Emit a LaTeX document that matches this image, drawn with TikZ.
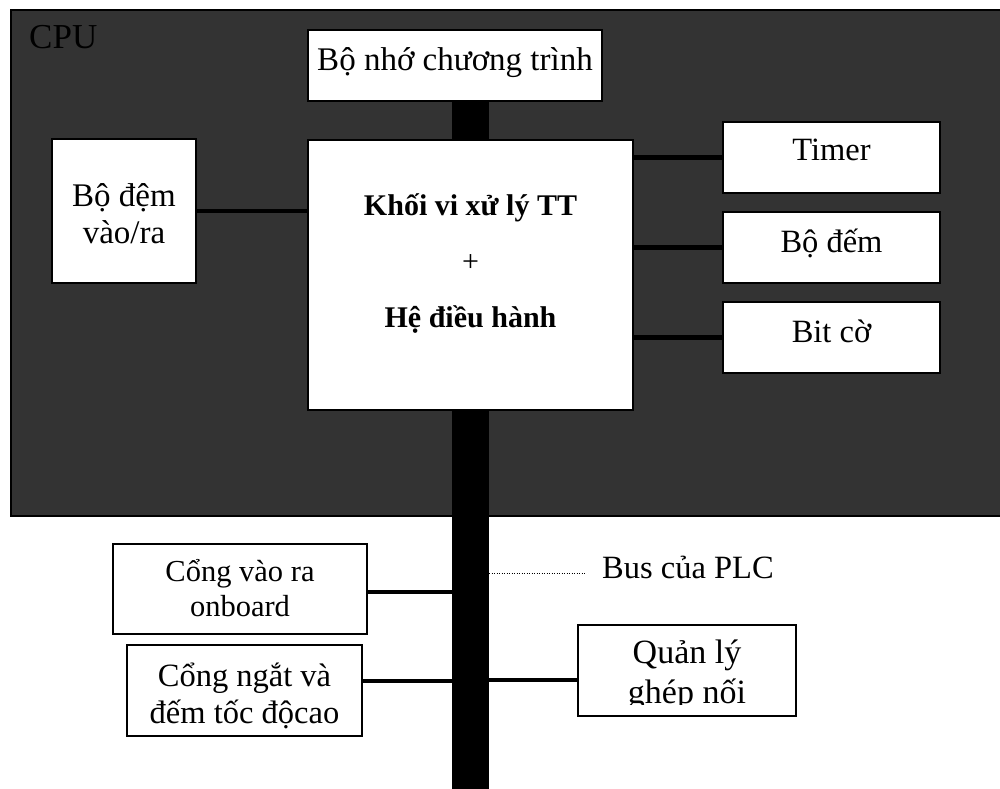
\documentclass[tikz,border=0pt]{standalone}
\usepackage{fontspec}
\setmainfont{Liberation Serif}
% centred lines with a fixed baseline distance; the box's baseline is the first line
\newcommand\linestack[2]{\vtop{\baselineskip=#1\lineskiplimit=-\maxdimen\lineskip=0pt
  \halign{\hfil##\hfil\cr#2\crcr}}}
\definecolor{cpugray}{HTML}{333333}
\tikzset{
  panel/.style={draw=black, fill=cpugray, line width=1.5pt, inner sep=0pt},
  blk/.style={draw=black, fill=white, line width=1.5pt, inner sep=0pt},
  busbar/.style={fill=black, draw=none, inner sep=0pt},
  link/.style={line width=4.5pt},
  leader/.style={line width=0.9pt, dash pattern=on 0.9pt off 1.6pt},
  txt/.style={inner sep=0pt, anchor=base, font=\fontsize{31}{36}\selectfont},
  fs/.style={font=\fontsize{#1}{#1}\selectfont},
}
\begin{document}
\begin{tikzpicture}[x=1pt, y=-1pt]
\useasboundingbox (0,0) rectangle (1000,788);

% CPU enclosure
\node[panel, minimum width=992pt, minimum height=506pt] (cpu) at (507,263) {};
\node[txt, anchor=base west, fs=35] (cpulbl) at (29,48) {CPU};

% system bus
\node[busbar, minimum width=37pt, minimum height=690pt] (bus) at (470.5,445) {};

% blocks
\node[blk, minimum width=294pt, minimum height=71pt]  (prog)    at (455,65.5)   {};
\node[blk, minimum width=325pt, minimum height=270pt] (core)    at (470.5,275)  {};
\node[blk, minimum width=144pt, minimum height=144pt] (buf)     at (124,211)    {};
\node[blk, minimum width=217pt, minimum height=71pt]  (timer)   at (831.5,157.5){};
\node[blk, minimum width=217pt, minimum height=71pt]  (counter) at (831.5,247.5){};
\node[blk, minimum width=217pt, minimum height=71pt]  (flags)   at (831.5,337.5){};
\node[blk, minimum width=254pt, minimum height=90pt]  (port1)   at (240,589)    {};
\node[blk, minimum width=235pt, minimum height=91pt]  (port2)   at (244.5,690.5){};
\node[blk, minimum width=218pt, minimum height=91pt]  (iface)   at (687,670.5)  {};

% connections
\draw[link] (buf.east) -- (buf.east -| core.west);
\draw[link] (timer.west) -- (timer.west -| core.east);
\draw[link] (counter.west) -- (counter.west -| core.east);
\draw[link] (flags.west) -- (flags.west -| core.east);
\draw[link] ([yshift=-3pt]port1.east) -- ([yshift=-3pt]port1.east -| bus.west);
\draw[link] ([yshift=9.5pt]port2.east) -- ([yshift=9.5pt]port2.east -| bus.west);
\draw[link] ([yshift=-9.5pt]iface.west) -- ([yshift=-9.5pt]iface.west -| bus.east);

% bus caption
\coordinate (dotend) at (585,573);
\draw[leader] (bus.east |- dotend) -- (dotend);
\node[txt, anchor=base west, fs=32.5] (buslbl) at (602,578) {Bus của PLC};

% block texts
\node[txt, fs=33] (progtxt) at (455,70) {Bộ nhớ chương trình};
\node[txt, fs=30] (coretxt) at (470.5,215)
  {\linestack{56pt}{\bfseries Khối vi xử lý TT\cr +\cr \bfseries Hệ điều hành}};
\node[txt, fs=33] (buftxt) at (124,206) {\linestack{37pt}{Bộ đệm\cr vào/ra}};
\node[txt, fs=32.5] (timertxt) at (831.5,160) {Timer};
\node[txt, fs=32.5] (countertxt) at (831.5,252) {Bộ đếm};
\node[txt, fs=32.5] (flagstxt) at (831.5,342) {Bit cờ};
\node[txt, fs=30.5] (port1txt) at (240,581) {\linestack{35pt}{Cổng vào ra\cr onboard}};
\node[txt, fs=32.5] (port2txt) at (244.5,686) {\linestack{37pt}{Cổng ngắt và\cr đếm tốc độcao}};
\begin{scope}
  \clip (iface.north west) rectangle ([yshift=12pt]iface.south east);
  \node[txt, fs=34] (ifacetxt) at (687,663) {\linestack{40pt}{Quản lý\cr ghép nối}};
\end{scope}
\end{tikzpicture}
\end{document}
